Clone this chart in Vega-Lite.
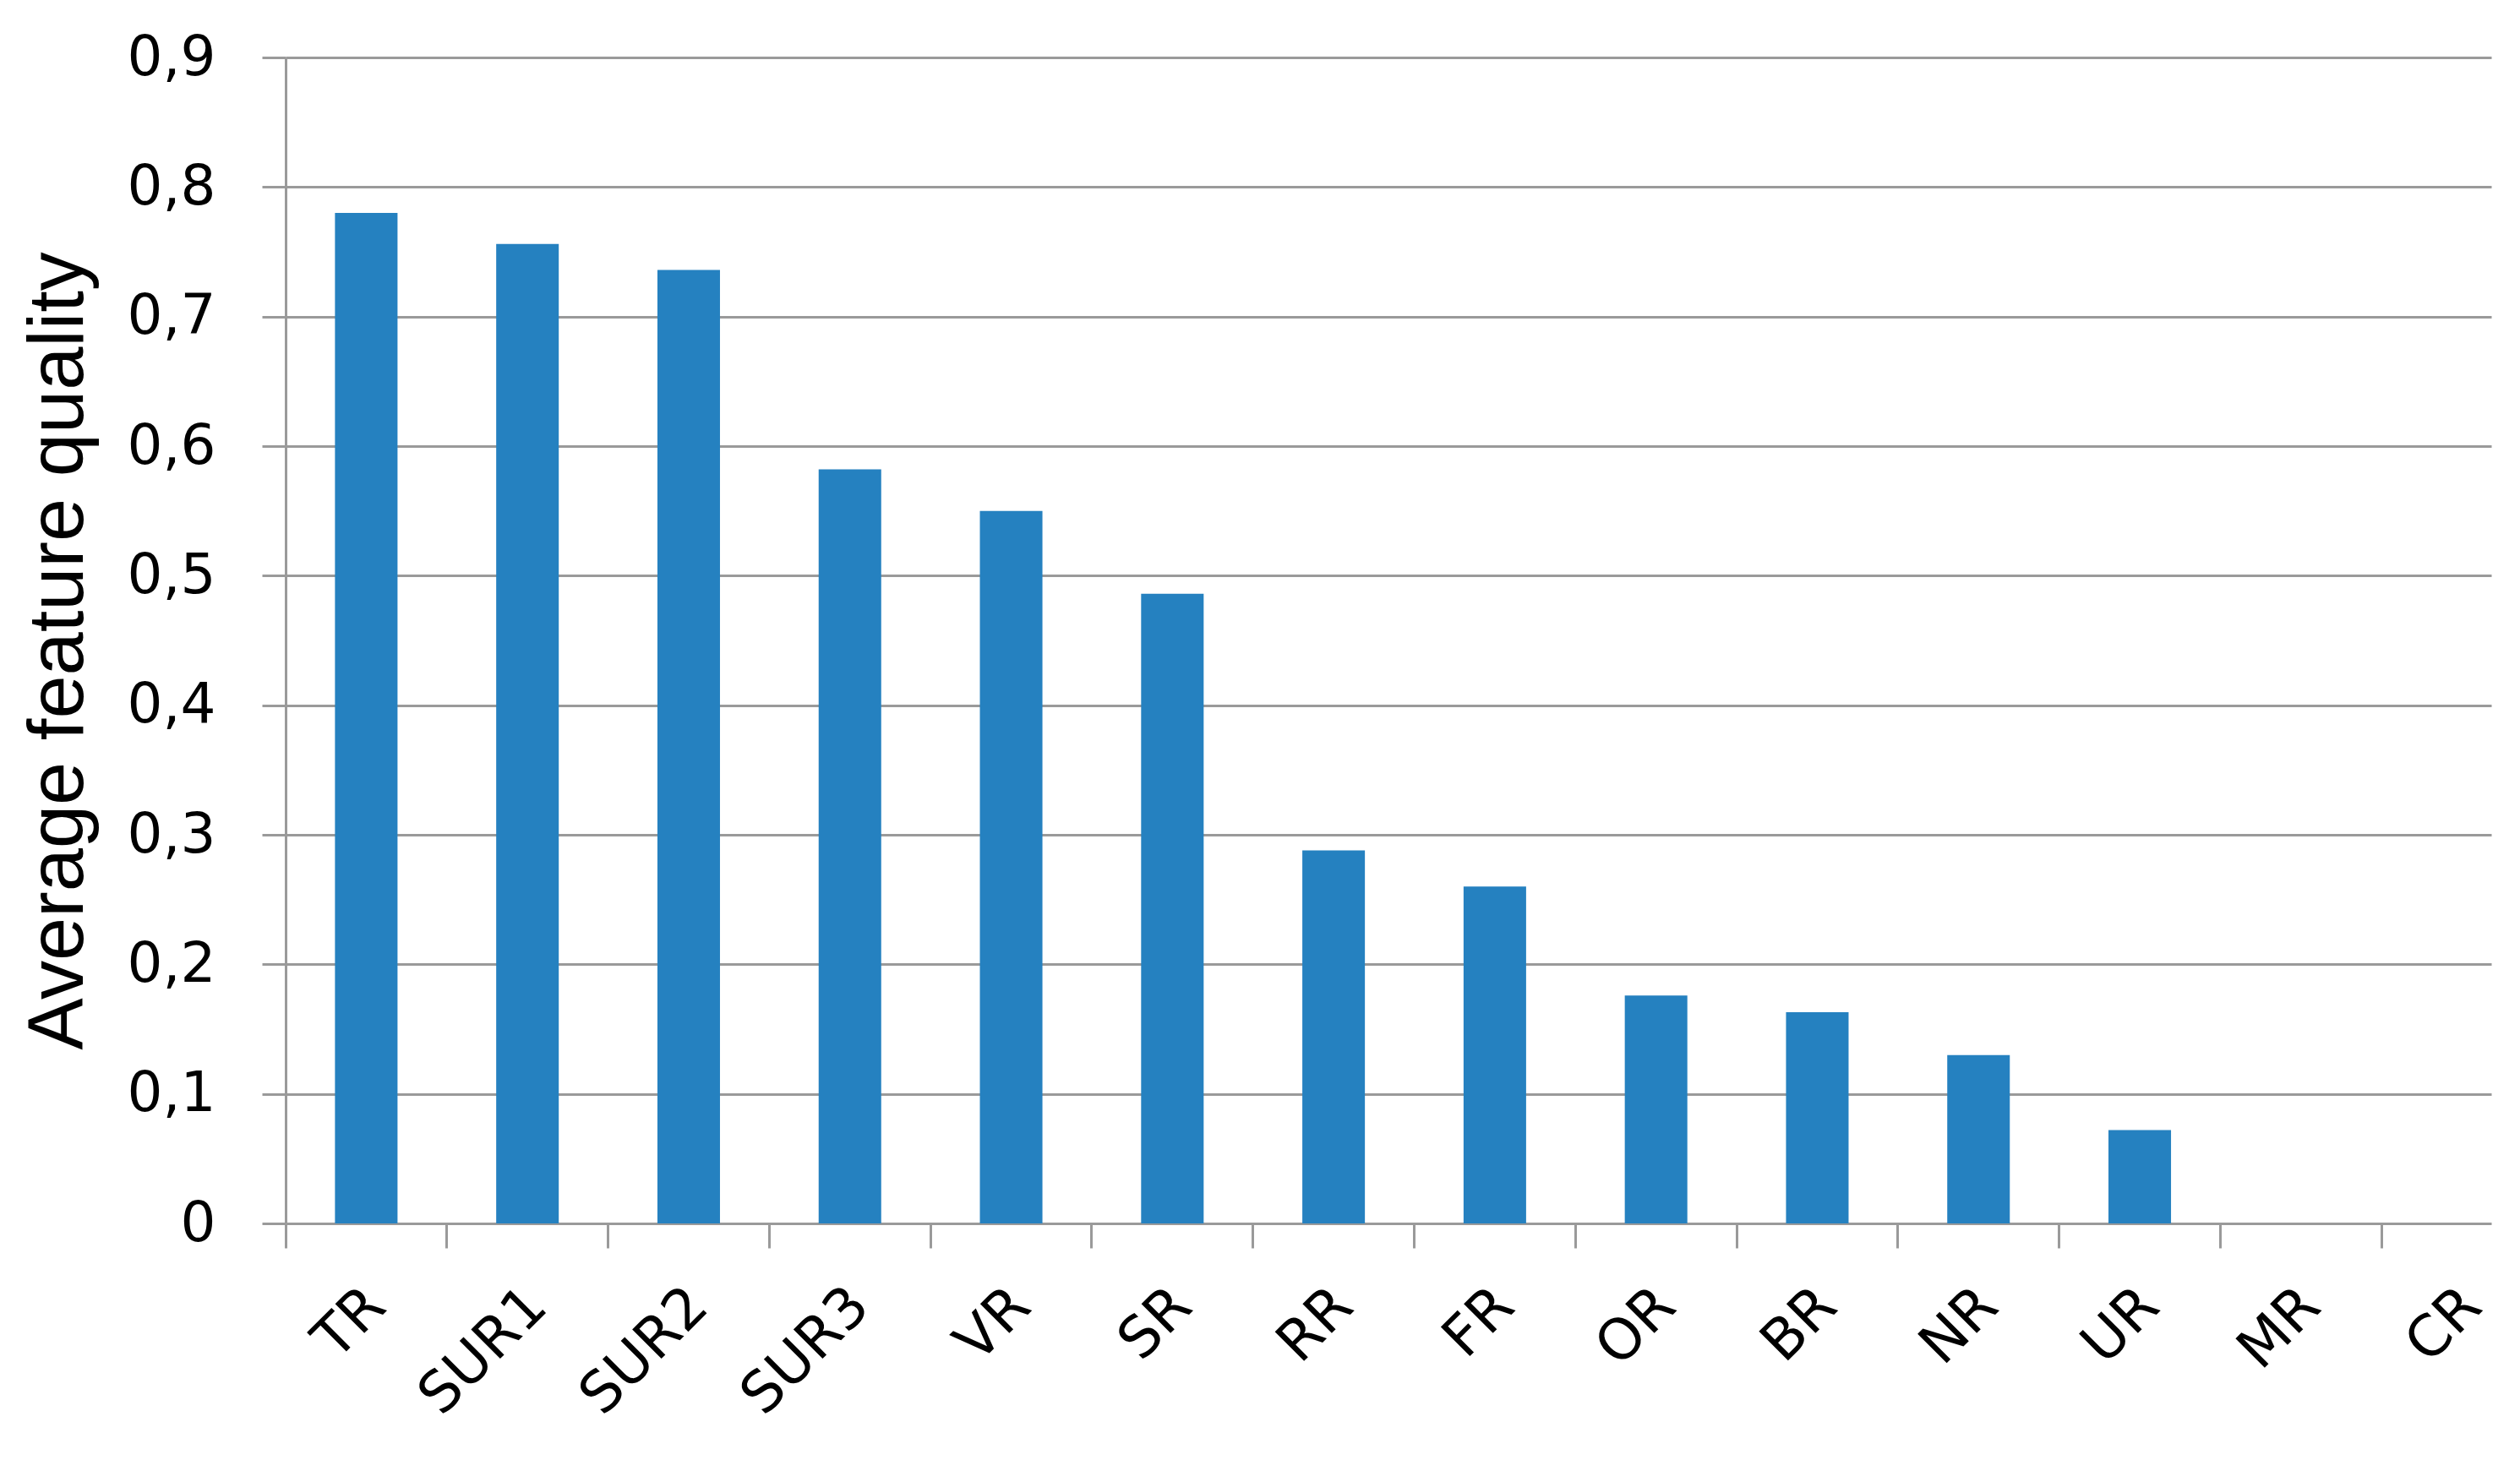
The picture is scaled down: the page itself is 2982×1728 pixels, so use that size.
{
  "$schema": "https://vega.github.io/schema/vega-lite/v6.json",
  "autosize": "none",
  "padding": {"left": 338, "top": 68, "right": 34, "bottom": 280},
  "width": 2610,
  "height": 1380,
  "background": "white",
  "config": {"view": {"stroke": null}},
  "data": {
    "values": [
      {"feature": "TR", "quality": 0.780},
      {"feature": "SUR1", "quality": 0.756},
      {"feature": "SUR2", "quality": 0.736},
      {"feature": "SUR3", "quality": 0.582},
      {"feature": "VR", "quality": 0.550},
      {"feature": "SR", "quality": 0.486},
      {"feature": "RR", "quality": 0.288},
      {"feature": "FR", "quality": 0.260},
      {"feature": "OR", "quality": 0.176},
      {"feature": "BR", "quality": 0.163},
      {"feature": "NR", "quality": 0.130},
      {"feature": "UR", "quality": 0.072},
      {"feature": "MR", "quality": 0},
      {"feature": "CR", "quality": 0}
    ]
  },
  "encoding": {
    "x": {
      "field": "feature",
      "type": "nominal",
      "sort": null,
      "scale": {"range": [0, 2671], "paddingInner": 0, "paddingOuter": 0},
      "axis": {
        "title": null,
        "domain": false,
        "grid": false,
        "bandPosition": 0,
        "ticks": true,
        "tickSize": 29,
        "tickWidth": 3,
        "tickColor": "#9a9a9a",
        "labelOffset": 12,
        "labelAngle": -45,
        "labelAlign": "right",
        "labelBaseline": "middle",
        "labelPadding": 58,
        "labelLimit": 0,
        "labelOverlap": false,
        "labelFont": "DejaVu Sans",
        "labelFontSize": 67,
        "labelColor": "#000000"
      }
    }
  },
  "layer": [
    {
      "mark": {"type": "bar", "color": "#2581C0", "opacity": 0, "width": {"band": 0.388}},
      "encoding": {
        "y": {
          "field": "quality",
          "type": "quantitative",
          "scale": {"domain": [0, 0.9], "nice": false},
          "axis": {
            "orient": "right",
            "title": null,
            "labels": false,
            "domain": false,
            "grid": false,
            "values": [0, 0.1, 0.2, 0.3, 0.4, 0.5, 0.6, 0.7, 0.8, 0.9],
            "tickSize": -2610,
            "tickWidth": 3,
            "tickColor": "#9a9a9a"
          }
        }
      }
    },
    {
      "mark": {"type": "bar", "color": "#2581C0", "width": {"band": 0.388}},
      "encoding": {
        "y": {
          "field": "quality",
          "type": "quantitative",
          "scale": {"domain": [0, 0.9], "nice": false},
          "axis": {
            "orient": "left",
            "title": "Average feature quality",
            "titleFont": "Liberation Sans",
            "titleFontSize": 92,
            "titleFontWeight": "normal",
            "titleColor": "#000000",
            "titleAngle": -90,
            "titleBaseline": "alphabetic",
            "titleAlign": "center",
            "titleX": -241,
            "titleY": 702,
            "values": [0, 0.1, 0.2, 0.3, 0.4, 0.5, 0.6, 0.7, 0.8, 0.9],
            "labelExpr": "datum.value == 0 ? '0' : replace(format(datum.value, '.1f'), '.', ',')",
            "labelFont": "DejaVu Sans",
            "labelFontSize": 66,
            "labelColor": "#000000",
            "labelPadding": 55,
            "labelLimit": 0,
            "tickSize": 28,
            "tickWidth": 3,
            "tickColor": "#9a9a9a",
            "domain": true,
            "domainColor": "#9a9a9a",
            "domainWidth": 3,
            "grid": false
          }
        }
      }
    }
  ],
  "resolve": {"axis": {"y": "independent"}}
}
